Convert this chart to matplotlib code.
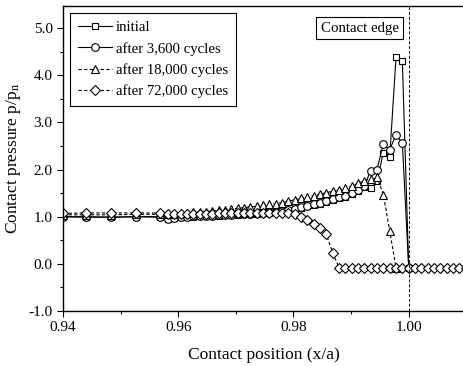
import matplotlib
matplotlib.use('Agg')
import matplotlib.pyplot as plt
from matplotlib.ticker import MultipleLocator

plt.rcParams['font.family'] = ['Liberation Serif', 'DejaVu Serif']
plt.rcParams['mathtext.fontset'] = 'stix'

# contact position x/a (shared node positions)
x_pos = [0.9400, 0.9440, 0.9483, 0.9526, 0.9568,
         0.9582, 0.9593, 0.9604, 0.9615, 0.9626, 0.9637, 0.9648, 0.9659, 0.9670, 0.9681,
         0.9692, 0.9703, 0.9714, 0.9725, 0.9736, 0.9747, 0.9758, 0.9769, 0.9780, 0.9791,
         0.9802, 0.9813, 0.9824, 0.9835, 0.9846, 0.9857, 0.9868, 0.9879, 0.9890, 0.9901,
         0.9912, 0.9923, 0.9934, 0.9945, 0.9956, 0.9967, 0.9978, 0.9989, 1.0000,
         1.0011, 1.0022, 1.0033, 1.0044, 1.0055, 1.0066, 1.0077, 1.0088, 1.0099]

p_initial = [1.00, 1.00, 0.99, 1.00, 1.00,
             0.96, 0.97, 0.99, 1.00, 1.00, 1.01, 1.01, 1.02, 1.02, 1.03,
             1.03, 1.04, 1.05, 1.05, 1.06, 1.07, 1.08, 1.09, 1.11, 1.13,
             1.16, 1.19, 1.22, 1.25, 1.28, 1.31, 1.35, 1.39, 1.42, 1.48,
             1.55, 1.62, 1.60, 1.75, 2.36, 2.26, 4.38, 4.30, -0.08]

p_3600 = [1.00, 0.99, 0.99, 1.00, 0.99,
          0.95, 0.97, 0.99, 1.00, 1.01, 1.01, 1.02, 1.02, 1.03, 1.03,
          1.04, 1.05, 1.05, 1.06, 1.07, 1.08, 1.09, 1.10, 1.12, 1.14,
          1.17, 1.20, 1.23, 1.26, 1.29, 1.33, 1.37, 1.41, 1.45, 1.50,
          1.57, 1.65, 1.98, 2.00, 2.55, 2.42, 2.74, 2.56, -0.08]

p_18000 = [1.04, 1.04, 1.04, 1.05, 1.05,
           1.05, 1.06, 1.07, 1.08, 1.09, 1.10, 1.11, 1.12, 1.14, 1.15,
           1.16, 1.18, 1.19, 1.21, 1.22, 1.24, 1.26, 1.28, 1.30, 1.33,
           1.36, 1.39, 1.42, 1.45, 1.48, 1.51, 1.54, 1.57, 1.61, 1.65,
           1.71, 1.76, 1.80, 1.84, 1.47, 0.70, -0.08]

p_72000 = [1.07, 1.08, 1.08, 1.08, 1.08,
           1.06, 1.06, 1.06, 1.06, 1.06, 1.06, 1.06, 1.06, 1.07, 1.07,
           1.07, 1.07, 1.07, 1.07, 1.07, 1.07, 1.08, 1.08, 1.08, 1.08,
           1.06, 1.00, 0.93, 0.85, 0.75, 0.63, 0.24, -0.08, -0.08, -0.08,
           -0.08, -0.08, -0.08, -0.08, -0.08, -0.08, -0.08, -0.08, -0.08,
           -0.08, -0.08, -0.08, -0.08, -0.08, -0.08, -0.08, -0.08, -0.08]

labels = ['initial', 'after 3,600 cycles', 'after 18,000 cycles', 'after 72,000 cycles']

fig = plt.figure(figsize=(4.64, 3.66), dpi=100)
ax = fig.add_axes([0.1358, 0.1503, 0.8642, 0.8333])

mk = dict(color='black', markerfacecolor='white', markeredgecolor='black',
          markeredgewidth=0.8, linewidth=0.8)
ax.plot(x_pos[:len(p_initial)], p_initial, marker='s', markersize=5, linestyle='-', label=labels[0], **mk)
ax.plot(x_pos[:len(p_3600)], p_3600, marker='o', markersize=5.5, linestyle='-', label=labels[1], **mk)
ax.plot(x_pos[:len(p_18000)], p_18000, marker='^', markersize=6, linestyle=(0, (3, 2)), label=labels[2], **mk)
ax.plot(x_pos[:len(p_72000)], p_72000, marker='D', markersize=4.6, linestyle=(0, (3, 2)), label=labels[3], **mk)

# contact edge
ax.axvline(1.0, color='black', linestyle=(0, (3, 2)), linewidth=0.7)
ax.text(0.9915, 5.0, 'Contact edge', ha='center', va='center', fontsize=10.7,
        bbox=dict(boxstyle='square,pad=0.3', facecolor='white', edgecolor='black', linewidth=0.8))

ax.set_xlim(0.94, 1.0096)
ax.set_ylim(-1.0, 5.47)
ax.set_xticks([0.94, 0.96, 0.98, 1.00])
ax.set_xticklabels(['0.94', '0.96', '0.98', '1.00'])
ax.set_yticks([-1.0, 0.0, 1.0, 2.0, 3.0, 4.0, 5.0])
ax.set_yticklabels(['-1.0', '0.0', '1.0', '2.0', '3.0', '4.0', '5.0'])
ax.xaxis.set_minor_locator(MultipleLocator(0.01))
ax.yaxis.set_minor_locator(MultipleLocator(0.5))
ax.tick_params(which='major', direction='out', length=4, width=0.8, labelsize=11)
ax.tick_params(which='minor', direction='out', length=2.5, width=0.8)
ax.spines['right'].set_visible(False)
for s in ['left', 'bottom', 'top']:
    ax.spines[s].set_linewidth(1.0)

ax.set_xlabel('Contact position (x/a)', fontsize=12.5, labelpad=9)
ax.set_ylabel(r'Contact pressure p/p$_{\mathrm{n}}$', fontsize=12.5, labelpad=4)

leg = ax.legend(loc='upper left', bbox_to_anchor=(0.017, 0.977), borderaxespad=0,
                fontsize=10.6, numpoints=1, handlelength=2.3, handletextpad=0.3,
                labelspacing=0.5, borderpad=0.55, fancybox=False, framealpha=1)
leg.get_frame().set_edgecolor('black')
leg.get_frame().set_linewidth(0.8)

plt.savefig('out.png', dpi=100, facecolor='white')
plt.close()
